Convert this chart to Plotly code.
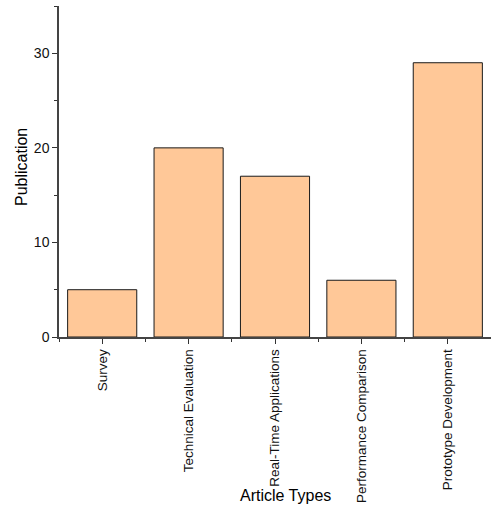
import plotly.graph_objects as go

categories = ["Survey", "Technical Evaluation", "Real-Time Applications",
              "Performance Comparison", "Prototype Development"]
publications = [5, 20, 17, 6, 29]
y_ticks = [0, 10, 20, 30]

idx = list(range(len(categories)))

fig = go.Figure(go.Bar(
    x=idx, y=publications, width=0.8,
    marker=dict(color="#FFC898", line=dict(color="#1a1a1a", width=1)),
))

W, H = 491, 507
ml, mr, mt, mb = 59, 0, 6, 170

fig.update_layout(
    width=W, height=H,
    margin=dict(l=ml, r=mr, t=mt, b=mb),
    plot_bgcolor="white", paper_bgcolor="white",
    font=dict(family="Liberation Sans, Arial, sans-serif", color="black", size=13),
    showlegend=False,
    xaxis=dict(
        range=[-0.5, len(categories) - 0.5],
        tickmode="array", tickvals=idx, ticktext=categories,
        tickangle=-90, ticks="outside", ticklen=5, tickwidth=1.2, tickcolor="#333",
        minor=dict(tickmode="array", tickvals=[i + 0.5 for i in idx[:-1]] + [-0.5],
                   ticks="outside", ticklen=3, tickwidth=1.2, tickcolor="#333"),
        showline=True, linecolor="#444", linewidth=1.5,
        showgrid=False, zeroline=False,
        tickfont=dict(size=13.5, color="#111"),
    ),
    yaxis=dict(
        range=[0, 35],
        tickmode="array", tickvals=y_ticks,
        ticks="outside", ticklen=5, tickwidth=1.2, tickcolor="#333",
        minor=dict(tickmode="linear", tick0=5, dtick=10, ticks="outside",
                   ticklen=3, tickwidth=1.2, tickcolor="#333"),
        showline=True, linecolor="#444", linewidth=1.5,
        showgrid=False, zeroline=False,
        tickfont=dict(size=14, color="#111"),
    ),
    annotations=[
        dict(text="Article Types", xref="paper", yref="paper",
             x=(285 - ml) / (W - ml - mr), y=-(495 - (H - mb)) / (H - mt - mb),
             xanchor="center", yanchor="middle", showarrow=False,
             font=dict(size=16)),
        dict(text="Publication", xref="paper", yref="paper",
             x=-(ml - 22) / (W - ml - mr), y=(H - mb - 167) / (H - mt - mb),
             xanchor="center", yanchor="middle", textangle=-90, showarrow=False,
             font=dict(size=16)),
    ],
)

fig.write_html("out.html", config={"displayModeBar": False},
               post_script="document.body.style.margin='0';document.body.style.overflow='hidden';")
